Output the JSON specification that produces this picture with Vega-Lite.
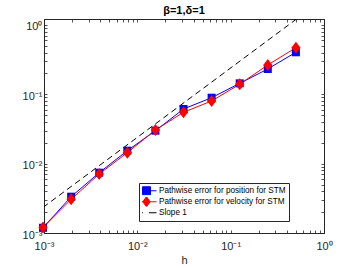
{
  "$schema": "https://vega.github.io/schema/vega-lite/v6.json",
  "autosize": "none",
  "width": 280,
  "height": 214,
  "padding": {"left": 44, "top": 19, "right": 33, "bottom": 35},
  "background": "white",
  "config": {
    "font": "Liberation Sans",
    "view": {"stroke": "#262626", "strokeWidth": 1},
    "axis": {
      "grid": false,
      "domainColor": "#262626",
      "tickColor": "#262626",
      "labelColor": "#262626",
      "titleColor": "#262626",
      "labelFont": "Liberation Sans",
      "titleFont": "Liberation Sans",
      "labelFontSize": 11,
      "titleFontSize": 11,
      "titleFontWeight": "normal",
      "tickSize": -3,
      "domainWidth": 1,
      "tickWidth": 0.8
    }
  },
  "title": {"text": "β=1,δ=1", "fontSize": 11, "fontWeight": "bold", "font": "Liberation Sans", "color": "#000000", "offset": 3},
  "datasets": {
    "errors": [
      {"h": 0.0009765625, "err": 0.00119, "series": "Pathwise error for position for STM"},
      {"h": 0.001953125, "err": 0.00334, "series": "Pathwise error for position for STM"},
      {"h": 0.00390625, "err": 0.00741, "series": "Pathwise error for position for STM"},
      {"h": 0.0078125, "err": 0.0154, "series": "Pathwise error for position for STM"},
      {"h": 0.015625, "err": 0.0299, "series": "Pathwise error for position for STM"},
      {"h": 0.03125, "err": 0.0614, "series": "Pathwise error for position for STM"},
      {"h": 0.0625, "err": 0.0894, "series": "Pathwise error for position for STM"},
      {"h": 0.125, "err": 0.144, "series": "Pathwise error for position for STM"},
      {"h": 0.25, "err": 0.232, "series": "Pathwise error for position for STM"},
      {"h": 0.5, "err": 0.404, "series": "Pathwise error for position for STM"},
      {"h": 0.0009765625, "err": 0.0012, "series": "Pathwise error for velocity for STM"},
      {"h": 0.001953125, "err": 0.00306, "series": "Pathwise error for velocity for STM"},
      {"h": 0.00390625, "err": 0.0071, "series": "Pathwise error for velocity for STM"},
      {"h": 0.0078125, "err": 0.0144, "series": "Pathwise error for velocity for STM"},
      {"h": 0.015625, "err": 0.0306, "series": "Pathwise error for velocity for STM"},
      {"h": 0.03125, "err": 0.0551, "series": "Pathwise error for velocity for STM"},
      {"h": 0.0625, "err": 0.0802, "series": "Pathwise error for velocity for STM"},
      {"h": 0.125, "err": 0.140, "series": "Pathwise error for velocity for STM"},
      {"h": 0.25, "err": 0.265, "series": "Pathwise error for velocity for STM"},
      {"h": 0.5, "err": 0.471, "series": "Pathwise error for velocity for STM"}
    ],
    "slope": [
      {"h": 0.0009765625, "err": 0.00234, "series": "Slope 1"},
      {"h": 0.5, "err": 1.2, "series": "Slope 1"}
    ]
  },
  "resolve": {"axis": {"x": "independent", "y": "independent"}},
  "layer": [
    {
      "data": {"name": "slope"},
      "mark": {"type": "line", "color": "#000000", "strokeWidth": 1, "strokeDash": [6, 4], "clip": true},
      "encoding": {
        "x": {
          "field": "h", "type": "quantitative", "title": "h",
          "scale": {"type": "log", "domain": [0.001, 1], "nice": false},
          "axis": {
            "orient": "bottom",
            "values": [0.001,0.002,0.003,0.004,0.005,0.006,0.007,0.008,0.009,0.01,0.02,0.03,0.04,0.05,0.06,0.07,0.08,0.09,0.1,0.2,0.3,0.4,0.5,0.6,0.7,0.8,0.9,1],
            "labelExpr": "datum.value == 0.001 ? '10⁻³' : datum.value == 0.01 ? '10⁻²' : datum.value == 0.1 ? '10⁻¹' : datum.value == 1 ? '10⁰' : ''",
            "labelPadding": 10,
            "labelFlush": false,
            "labelOverlap": false,
            "titlePadding": 3
          }
        },
        "y": {
          "field": "err", "type": "quantitative", "title": null,
          "scale": {"type": "log", "domain": [0.001, 1.22], "nice": false},
          "axis": {
            "orient": "left",
            "values": [0.001,0.002,0.003,0.004,0.005,0.006,0.007,0.008,0.009,0.01,0.02,0.03,0.04,0.05,0.06,0.07,0.08,0.09,0.1,0.2,0.3,0.4,0.5,0.6,0.7,0.8,0.9,1],
            "labelExpr": "datum.value == 0.001 ? '10⁻³' : datum.value == 0.01 ? '10⁻²' : datum.value == 0.1 ? '10⁻¹' : datum.value == 1 ? '10⁰' : ''",
            "labelPadding": 5,
            "labelFlush": false,
            "labelOverlap": false,
            "labelBaseline": "middle",
            "labelOffset": 2
          }
        }
      }
    },
    {
      "data": {"name": "errors"},
      "mark": {"type": "line", "strokeWidth": 1},
      "encoding": {
        "x": {
          "field": "h", "type": "quantitative",
          "axis": {
            "orient": "top", "labels": false, "title": null,
            "values": [0.001,0.002,0.003,0.004,0.005,0.006,0.007,0.008,0.009,0.01,0.02,0.03,0.04,0.05,0.06,0.07,0.08,0.09,0.1,0.2,0.3,0.4,0.5,0.6,0.7,0.8,0.9,1]
          }
        },
        "y": {
          "field": "err", "type": "quantitative",
          "axis": {
            "orient": "right", "labels": false, "title": null,
            "values": [0.001,0.002,0.003,0.004,0.005,0.006,0.007,0.008,0.009,0.01,0.02,0.03,0.04,0.05,0.06,0.07,0.08,0.09,0.1,0.2,0.3,0.4,0.5,0.6,0.7,0.8,0.9,1]
          }
        },
        "color": {
          "field": "series", "type": "nominal", "legend": null,
          "scale": {"domain": ["Slope 1", "Pathwise error for position for STM", "Pathwise error for velocity for STM"], "range": ["#000000", "#0000ff", "#ff0000"]}
        }
      }
    },
    {
      "data": {"name": "errors"},
      "transform": [{"filter": "datum.series == 'Pathwise error for position for STM'"}],
      "mark": {"type": "point", "shape": "square", "filled": true, "size": 64, "opacity": 1, "color": "#0000ff"},
      "encoding": {
        "x": {"field": "h", "type": "quantitative", "axis": null},
        "y": {"field": "err", "type": "quantitative", "axis": null}
      }
    },
    {
      "data": {"name": "errors"},
      "transform": [{"filter": "datum.series == 'Pathwise error for velocity for STM'"}],
      "mark": {"type": "point", "shape": "M0,-1.3L1,0L0,1.3L-1,0Z", "filled": true, "size": 85, "opacity": 1, "color": "#ff0000"},
      "encoding": {
        "x": {"field": "h", "type": "quantitative", "axis": null},
        "y": {"field": "err", "type": "quantitative", "axis": null}
      }
    },
    {
      "data": {"name": "errors"},
      "mark": {
        "type": "point", "filled": true, "size": 0, "opacity": 1, "strokeWidth": 1,
        "fill": {"expr": "(datum.value || datum.series) == 'Slope 1' ? 'transparent' : (datum.value || datum.series) == 'Pathwise error for position for STM' ? '#0000ff' : '#ff0000'"},
        "stroke": {"expr": "(datum.value || datum.series) == 'Slope 1' ? '#000000' : (datum.value || datum.series) == 'Pathwise error for position for STM' ? '#0000ff' : '#ff0000'"}
      },
      "encoding": {
        "x": {"field": "h", "type": "quantitative", "axis": null},
        "y": {"field": "err", "type": "quantitative", "axis": null},
        "shape": {
          "field": "series", "type": "nominal",
          "scale": {
            "domain": ["Pathwise error for position for STM", "Pathwise error for velocity for STM", "Slope 1"],
            "range": ["M-2.5,0H2.5M-1,-1H1V1H-1Z", "M-2.5,0H2.5M0,-1.3L0.9,0L0,1.3L-0.9,0Z", "M-2.5,0H-0.9M0.6,0H2.5"]
          },
          "legend": {
            "title": null,
            "orient": "none",
            "legendX": 95,
            "legendY": 164,
            "padding": 3,
            "strokeColor": "#262626",
            "fillColor": "#ffffff",
            "symbolSize": 64,
            "symbolStrokeWidth": 1,
            "symbolOpacity": 1,
            "labelFont": "Liberation Sans",
            "labelFontSize": 8.2,
            "labelColor": "#000000",
            "labelOffset": 8,
            "rowPadding": 0,
            "clipHeight": 9.5,
            "labelLimit": 300
          }
        }
      }
    }
  ]
}
